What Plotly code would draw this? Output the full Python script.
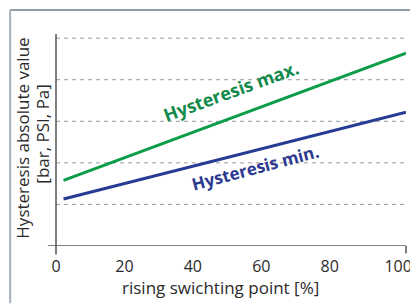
import plotly.graph_objects as go

x_vals = [2.2, 102.3]
hyst_max = [1.58, 4.64]
hyst_min = [1.13, 3.22]
x_ticks = [0, 20, 40, 60, 80, 100]
grid_vals = [1, 2, 3, 4, 5]

GREEN = "#0c9d48"
GREEN_TXT = "#138a4a"
BLUE = "#283b92"
BLUE_TXT = "#2b3990"
FONT = "Open Sans"
TXT = "#2a2a2a"

fig = go.Figure()
fig.add_trace(go.Scatter(x=x_vals, y=hyst_max, mode="lines",
                         line=dict(color=GREEN, width=3), hoverinfo="skip"))
fig.add_trace(go.Scatter(x=x_vals, y=hyst_min, mode="lines",
                         line=dict(color=BLUE, width=3), hoverinfo="skip"))

# dashed horizontal gridlines
for g in grid_vals:
    fig.add_shape(type="line", xref="paper", yref="y", x0=0, x1=1, y0=g, y1=g,
                  line=dict(color="#9a9a9a", width=1, dash="4px,4px"), layer="below")

# axes lines (crossing style)
fig.add_shape(type="line", xref="paper", yref="paper", x0=0, x1=0, y0=-0.04, y1=1,
              line=dict(color="#555555", width=1.5))
fig.add_shape(type="line", xref="paper", yref="y", x0=-0.023, x1=1, y0=0, y1=0,
              line=dict(color="#555555", width=1.5))
fig.add_shape(type="line", xref="paper", yref="paper", x0=1, x1=1, y0=-0.035, y1=0,
              line=dict(color="#555555", width=1.5))

# outer frame (top and left)
fig.add_shape(type="line", xref="paper", yref="paper", x0=-0.131, x1=1.04, y0=1.113, y1=1.113,
              line=dict(color="#6e7b88", width=1.5))
fig.add_shape(type="line", xref="paper", yref="paper", x0=-0.131, x1=-0.131, y0=1.113, y1=-0.27,
              line=dict(color="#a8b0b8", width=2))

fig.add_annotation(x=51.2, y=3.72, xref="x", yref="y", text="<b>Hysteresis max.</b>",
                   showarrow=False, textangle=-20,
                   font=dict(family=FONT, size=18, color=GREEN_TXT))
fig.add_annotation(x=58.3, y=1.88, xref="x", yref="y", text="<b>Hysteresis min.</b>",
                   showarrow=False, textangle=-15,
                   font=dict(family=FONT, size=17, color=BLUE_TXT))

# axis titles
fig.add_annotation(x=-0.0943, y=0.511, xref="paper", yref="paper",
                   text="Hysteresis absolute value",
                   showarrow=False, textangle=-90, xanchor="center", yanchor="middle",
                   font=dict(family=FONT, size=17, color=TXT))
fig.add_annotation(x=-0.0371, y=0.53, xref="paper", yref="paper",
                   text="[bar, PSI, Pa]",
                   showarrow=False, textangle=-90, xanchor="center", yanchor="middle",
                   font=dict(family=FONT, size=17, color=TXT))
fig.add_annotation(x=0.47, y=-0.195, xref="paper", yref="paper",
                   text="rising swichting point [%]",
                   showarrow=False, xanchor="center", yanchor="middle",
                   font=dict(family=FONT, size=17, color=TXT))

fig.update_layout(
    width=410, height=298,
    margin=dict(l=48, r=12, t=26, b=60),
    paper_bgcolor="white", plot_bgcolor="white",
    showlegend=False,
    font=dict(family=FONT, size=16, color=TXT),
    xaxis=dict(range=[0, 102.3], tickvals=x_ticks, showgrid=False, zeroline=False,
               showline=False, ticks="outside", ticklen=6, tickcolor="rgba(0,0,0,0)",
               automargin=False, ticklabeloverflow="allow",
               tickfont=dict(size=16, color=TXT)),
    yaxis=dict(range=[0, 5.1], showticklabels=False, showgrid=False, zeroline=False,
               showline=False, ticks="", automargin=False),
)

fig.write_html("out.html")
